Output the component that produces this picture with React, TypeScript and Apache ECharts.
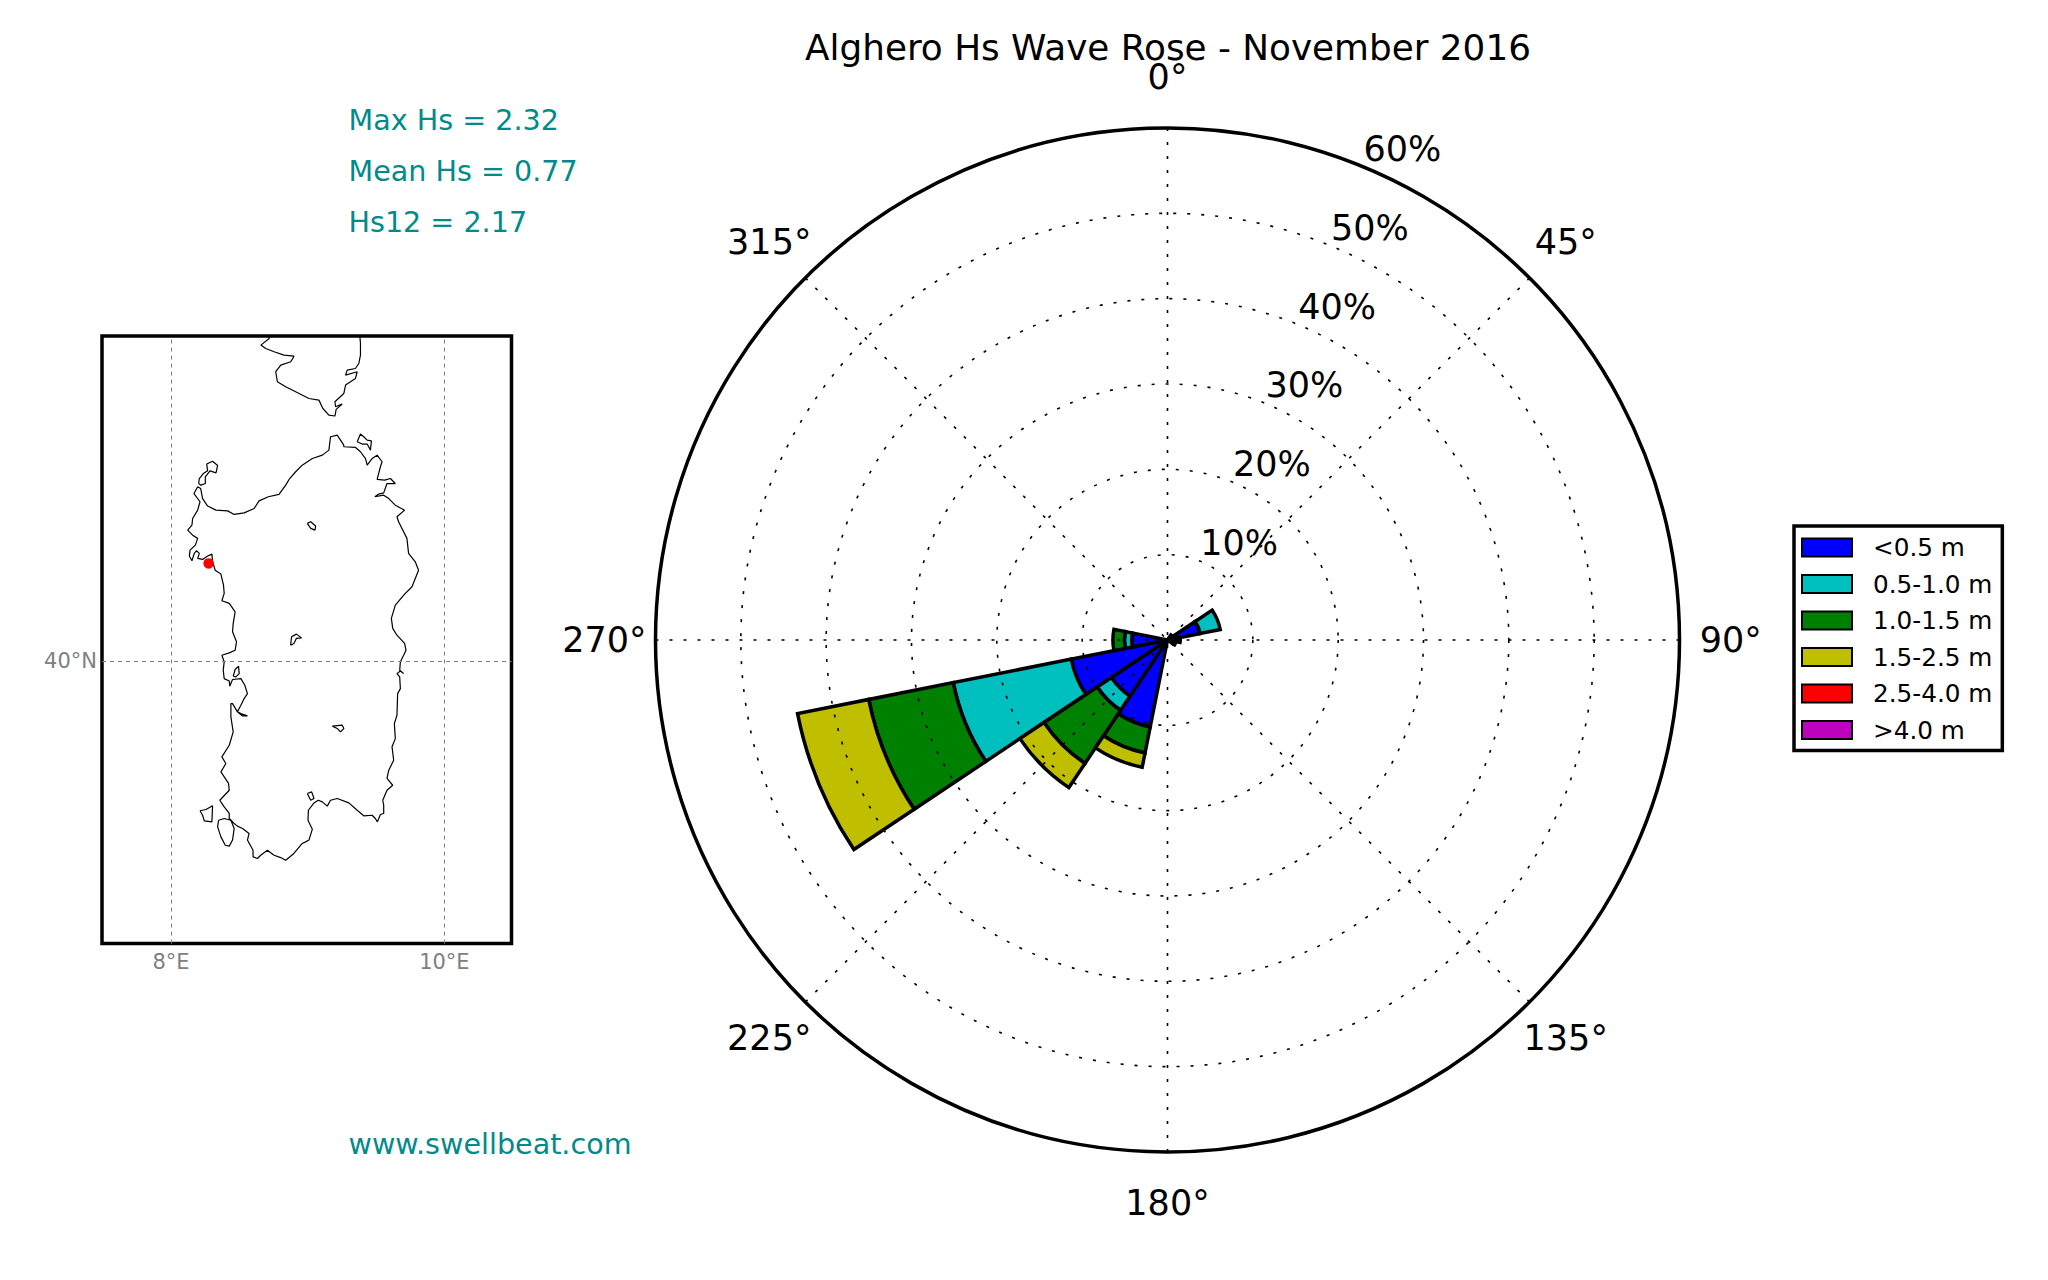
import * as echarts from "echarts"
import { useEffect, useRef } from "react"

const FONT = "DejaVu Sans"

// compass sectors, 22.5 deg each
const directions = [
  "0", "22.5", "45", "67.5", "90", "112.5", "135", "157.5",
  "180", "202.5", "225", "247.5", "270", "292.5", "315", "337.5",
]
const binNames = ["<0.5 m", "0.5-1.0 m", "1.0-1.5 m", "1.5-2.5 m", "2.5-4.0 m", ">4.0 m"]
const binColors = ["#0000ff", "#00bfbf", "#008000", "#bfbf00", "#ff0000", "#bf00bf"]

// percent of time per sector, null = nothing drawn
const n = null
const below05 = [n, n, 0.7, 3.9, 1.5, 1.0, n, n, n, 10.4, 7.9, 11.5, 4.2, n, n, n]
const from05to10 = [n, n, n, 2.4, n, n, n, n, n, n, 2.0, 14.1, 0.85, n, n, n]
const from10to15 = [n, n, n, n, n, n, n, n, n, 3.1, 7.5, 10.1, 1.35, n, n, n]
const from15to25 = [n, n, n, n, n, n, n, n, n, 1.7, 3.4, 8.5, n, n, n, n]
const from25to40 = [n, n, n, n, n, n, n, n, n, n, n, n, n, n, n, n]
const above40 = [n, n, n, n, n, n, n, n, n, n, n, n, n, n, n, n]
const binValues = [below05, from05to10, from10to15, from15to25, from25to40, above40]

const radiusTicks = [10, 20, 30, 40, 50, 60]
const angleTicks = [0, 45, 90, 135, 180, 225, 270, 315]

const statLines = ["Max Hs = 2.32", "Mean Hs = 0.77", "Hs12 = 2.17"]
const siteUrl = "www.swellbeat.com"

// coastlines as [lon, lat]
const sardinia = [
  [8.195, 40.978], [8.168, 40.94], [8.212, 40.894], [8.195, 40.847], [8.158, 40.8], [8.153, 40.763],
  [8.122, 40.735], [8.158, 40.707], [8.195, 40.689], [8.178, 40.651], [8.139, 40.623], [8.134, 40.59],
  [8.153, 40.564], [8.17, 40.605], [8.187, 40.62], [8.207, 40.605], [8.195, 40.577], [8.231, 40.571],
  [8.268, 40.59], [8.299, 40.601], [8.304, 40.558], [8.323, 40.511], [8.365, 40.489], [8.384, 40.427],
  [8.389, 40.381], [8.372, 40.34], [8.426, 40.325], [8.469, 40.278], [8.455, 40.213], [8.45, 40.166],
  [8.479, 40.11], [8.469, 40.063], [8.426, 40.048], [8.372, 40.035], [8.389, 39.998], [8.382, 39.951],
  [8.389, 39.904], [8.426, 39.891], [8.43, 39.861], [8.45, 39.899], [8.511, 39.904], [8.54, 39.867],
  [8.559, 39.82], [8.535, 39.792], [8.511, 39.755], [8.486, 39.718], [8.45, 39.764], [8.438, 39.764],
  [8.438, 39.69], [8.455, 39.606], [8.426, 39.531], [8.372, 39.466], [8.401, 39.429], [8.365, 39.382],
  [8.421, 39.317], [8.426, 39.279], [8.357, 39.223], [8.389, 39.186], [8.426, 39.149], [8.426, 39.121],
  [8.462, 39.093], [8.486, 39.078], [8.523, 39.065], [8.571, 39.037], [8.559, 39.0], [8.6, 38.943],
  [8.6, 38.906], [8.632, 38.897], [8.656, 38.915], [8.705, 38.943], [8.754, 38.915], [8.802, 38.902],
  [8.839, 38.887], [8.899, 38.925], [8.96, 38.981], [8.985, 38.99], [9.009, 39.0], [9.034, 39.061],
  [9.002, 39.111], [9.005, 39.167], [9.046, 39.208], [9.077, 39.223], [9.107, 39.214], [9.143, 39.19],
  [9.167, 39.223], [9.216, 39.233], [9.301, 39.208], [9.362, 39.167], [9.41, 39.136], [9.471, 39.139],
  [9.495, 39.121], [9.51, 39.102], [9.532, 39.143], [9.556, 39.149], [9.556, 39.195], [9.549, 39.223],
  [9.58, 39.279], [9.622, 39.307], [9.58, 39.345], [9.593, 39.391], [9.629, 39.447], [9.617, 39.522],
  [9.641, 39.568], [9.634, 39.652], [9.653, 39.699], [9.658, 39.82], [9.678, 39.848], [9.673, 39.914],
  [9.653, 39.932], [9.678, 39.947], [9.702, 39.932], [9.673, 39.951], [9.678, 39.998], [9.702, 40.035],
  [9.719, 40.063], [9.709, 40.101], [9.653, 40.147], [9.622, 40.185], [9.612, 40.241], [9.641, 40.315],
  [9.709, 40.377], [9.763, 40.418], [9.811, 40.511], [9.787, 40.558], [9.738, 40.605], [9.726, 40.689],
  [9.665, 40.782], [9.653, 40.81], [9.709, 40.847], [9.641, 40.875], [9.593, 40.912], [9.556, 40.931],
  [9.491, 40.922], [9.52, 40.937], [9.556, 40.944], [9.58, 40.996], [9.641, 40.996], [9.605, 41.024],
  [9.563, 41.015], [9.508, 41.019], [9.532, 41.09], [9.544, 41.118], [9.508, 41.155], [9.471, 41.136],
  [9.435, 41.099], [9.423, 41.136], [9.386, 41.174], [9.35, 41.198], [9.264, 41.202], [9.264, 41.211],
  [9.216, 41.267], [9.167, 41.258], [9.155, 41.183], [9.107, 41.155], [9.034, 41.136], [8.96, 41.099],
  [8.912, 41.062], [8.868, 41.024], [8.839, 40.987], [8.79, 40.935], [8.712, 40.922], [8.644, 40.899],
  [8.608, 40.856], [8.535, 40.832], [8.462, 40.823], [8.414, 40.843], [8.329, 40.847], [8.268, 40.87],
  [8.231, 40.912], [8.217, 40.968], [8.195, 40.978],
]
const asinara = [
  [8.202, 40.996], [8.207, 41.024], [8.236, 41.052], [8.268, 41.067], [8.261, 41.105], [8.304, 41.121],
  [8.341, 41.097], [8.329, 41.056], [8.285, 41.067], [8.251, 41.034], [8.251, 40.996], [8.219, 40.987],
  [8.202, 40.996],
]
const maddalena = [
  [9.362, 41.23], [9.386, 41.273], [9.41, 41.258], [9.435, 41.239], [9.466, 41.235], [9.459, 41.183],
  [9.435, 41.217], [9.398, 41.217], [9.362, 41.23],
]
const sanPietro = [
  [8.212, 39.164], [8.256, 39.171], [8.304, 39.192], [8.299, 39.102], [8.243, 39.108], [8.231, 39.139],
  [8.212, 39.164],
]
const santAntioco = [
  [8.348, 39.111], [8.389, 39.121], [8.438, 39.111], [8.462, 39.065], [8.45, 39.0], [8.426, 38.966],
  [8.397, 38.971], [8.365, 39.018], [8.341, 39.074], [8.348, 39.111],
]
const oristanoLagoon = [[8.455, 39.917], [8.469, 39.955], [8.494, 39.973], [8.499, 39.932], [8.474, 39.914], [8.455, 39.917]]
const oristanoSpit = [[8.486, 39.718], [8.523, 39.695], [8.559, 39.695], [8.511, 39.708], [8.486, 39.718]]
const cagliariLagoon = [[8.997, 39.261], [9.029, 39.27], [9.046, 39.233], [9.022, 39.223], [8.997, 39.261]]
const flumendosa = [[9.18, 39.638], [9.252, 39.643], [9.265, 39.625], [9.24, 39.606], [9.216, 39.625], [9.18, 39.638]]
const omodeo = [[8.875, 40.091], [8.882, 40.138], [8.917, 40.153], [8.955, 40.132], [8.917, 40.129], [8.899, 40.101], [8.875, 40.091]]
const coghinas = [[8.997, 40.773], [9.022, 40.782], [9.058, 40.758], [9.053, 40.735], [9.022, 40.745], [8.997, 40.773]]
const corsica = [
  [8.722, 41.846], [8.718, 41.808], [8.657, 41.771], [8.693, 41.752], [8.754, 41.734], [8.827, 41.715],
  [8.9, 41.709], [8.876, 41.678], [8.803, 41.659], [8.766, 41.622], [8.778, 41.566], [8.839, 41.538],
  [8.912, 41.51], [9.009, 41.472], [9.082, 41.463], [9.111, 41.416], [9.155, 41.379], [9.199, 41.374],
  [9.208, 41.411], [9.252, 41.441], [9.204, 41.426], [9.199, 41.454], [9.264, 41.5], [9.277, 41.547],
  [9.349, 41.584], [9.362, 41.622], [9.277, 41.603], [9.289, 41.631], [9.349, 41.64], [9.374, 41.668],
  [9.386, 41.715], [9.386, 41.78], [9.379, 41.846],
]
const coastlines = [
  sardinia, asinara, maddalena, sanPietro, santAntioco, oristanoLagoon, oristanoSpit,
  cagliariLagoon, flumendosa, omodeo, coghinas, corsica,
]
const alghero = [8.275, 40.549]
const meridians = [8, 10]
const parallels = [40]

const CENTER = [1167.5, 640]
const RADIUS = 512
const DOTTED = { color: "#000", width: 1.6, type: [3, 11] }

function buildOption() {
  const barSeries = binNames.map((name, i) => ({
    name,
    type: "bar",
    coordinateSystem: "polar",
    polarIndex: 0,
    stack: "rose",
    barCategoryGap: "0%",
    data: binValues[i],
    itemStyle: { color: binColors[i], borderColor: "#000", borderWidth: 3.5 },
    silent: true,
  }))

  const coastSeries = coastlines.map((points) => ({
    type: "line",
    xAxisIndex: 0,
    yAxisIndex: 0,
    data: points,
    symbol: "none",
    silent: true,
    lineStyle: { color: "#000", width: 1.2 },
  }))

  const tickLabel = {
    show: true,
    position: "inside",
    formatter: "{b}",
    color: "#000",
    fontFamily: FONT,
    fontSize: 35,
  }
  const labelSeries = {
    type: "scatter",
    coordinateSystem: "polar",
    polarIndex: 1,
    clip: false,
    silent: true,
    symbolSize: 1,
    itemStyle: { color: "transparent", opacity: 1 },
    z: 6,
  }

  return {
    animation: false,
    backgroundColor: "#fff",
    title: {
      text: "Alghero Hs Wave Rose - November 2016",
      left: 1163,
      top: 24,
      textAlign: "center",
      textStyle: { fontFamily: FONT, fontSize: 35.8, fontWeight: "normal", color: "#000" },
    },
    legend: {
      data: binNames,
      orient: "vertical",
      left: 1794,
      top: 526,
      padding: [9, 10, 8, 7],
      itemWidth: 50,
      itemHeight: 18,
      itemGap: 11.5,
      icon: "rect",
      borderColor: "#000",
      borderWidth: 3.5,
      textStyle: { fontFamily: FONT, fontSize: 24.7, color: "#000", padding: [0, 0, 0, 16] },
      selectedMode: false,
    },
    polar: [
      { center: CENTER, radius: RADIUS },
      { center: CENTER, radius: RADIUS },
    ],
    angleAxis: [
      {
        polarIndex: 0,
        type: "category",
        data: directions,
        startAngle: 101.25,
        clockwise: true,
        axisLine: { show: false },
        axisTick: { show: false },
        axisLabel: { show: false },
        splitLine: { show: false },
      },
      {
        polarIndex: 1,
        type: "value",
        min: 0,
        max: 360,
        interval: 45,
        startAngle: 90,
        clockwise: true,
        z: 5,
        axisLine: { lineStyle: { color: "#000", width: 3.5 } },
        axisTick: { show: false },
        axisLabel: { show: false },
        splitLine: { show: true, lineStyle: DOTTED },
      },
    ],
    radiusAxis: [
      { polarIndex: 0, type: "value", min: 0, max: 60, show: false },
      {
        polarIndex: 1,
        type: "value",
        min: 0,
        max: 60,
        interval: 10,
        z: 5,
        axisLine: { show: false },
        axisTick: { show: false },
        axisLabel: { show: false },
        splitLine: { show: true, lineStyle: DOTTED },
      },
    ],
    grid: { left: 102, top: 336, width: 409.5, height: 607.5, show: true, borderColor: "#000", borderWidth: 3.5, backgroundColor: "#fff" },
    xAxis: {
      type: "value",
      min: 7.495,
      max: 10.491,
      axisLine: { show: false },
      axisTick: { show: false },
      axisLabel: {
        customValues: meridians,
        margin: 8,
        fontFamily: FONT,
        fontSize: 21,
        color: "#808080",
        formatter: (v: number) => `${v}°E`,
      },
      splitLine: { show: false },
    },
    yAxis: {
      type: "value",
      min: 38.421,
      max: 41.822,
      axisLine: { show: false },
      axisTick: { show: false },
      axisLabel: {
        customValues: parallels,
        margin: 5,
        fontFamily: FONT,
        fontSize: 21,
        color: "#808080",
        formatter: (v: number) => `${v}°N`,
      },
      splitLine: { show: false },
    },
    graphic: [
      ...statLines.map((text, i) => ({
        type: "text",
        left: 348.5,
        top: 105 + i * 51,
        style: { text, fontFamily: FONT, fontSize: 28.6, fill: "#008b8b" },
      })),
      {
        type: "text",
        left: 348.5,
        top: 1129,
        style: { text: siteUrl, fontFamily: FONT, fontSize: 28.6, fill: "#008b8b" },
      },
    ],
    series: [
      ...barSeries,
      ...coastSeries,
      {
        type: "scatter",
        data: [alghero],
        symbolSize: 10.5,
        itemStyle: { color: "#ff0000", opacity: 1 },
        silent: true,
        z: 4,
        markLine: {
          silent: true,
          symbol: "none",
          label: { show: false },
          lineStyle: { color: "#808080", width: 1, type: [4, 4] },
          data: [
            ...meridians.map((xAxis) => ({ xAxis })),
            ...parallels.map((yAxis) => ({ yAxis })),
          ],
        },
      },
      {
        ...labelSeries,
        data: angleTicks.map((a) => ({ name: `${a}°`, value: [66, a] })),
        label: tickLabel,
      },
      {
        ...labelSeries,
        data: radiusTicks.map((r) => ({ name: `${r}%`, value: [r, 22.5] })),
        label: { ...tickLabel, offset: [39, -18] },
      },
    ],
  }
}

export default function App(): React.ReactElement {
  const containerRef = useRef<HTMLDivElement>(null)

  useEffect(() => {
    const node = containerRef.current
    if (!node) return
    const chart = echarts.init(node, undefined, { renderer: "svg" })
    chart.setOption(buildOption() as any)
    return () => chart.dispose()
  }, [])

  return (
    <div
      ref={containerRef}
      style={{ position: "fixed", left: 0, top: 0, width: 2048, height: 1280, background: "#fff" }}
    />
  )
}
